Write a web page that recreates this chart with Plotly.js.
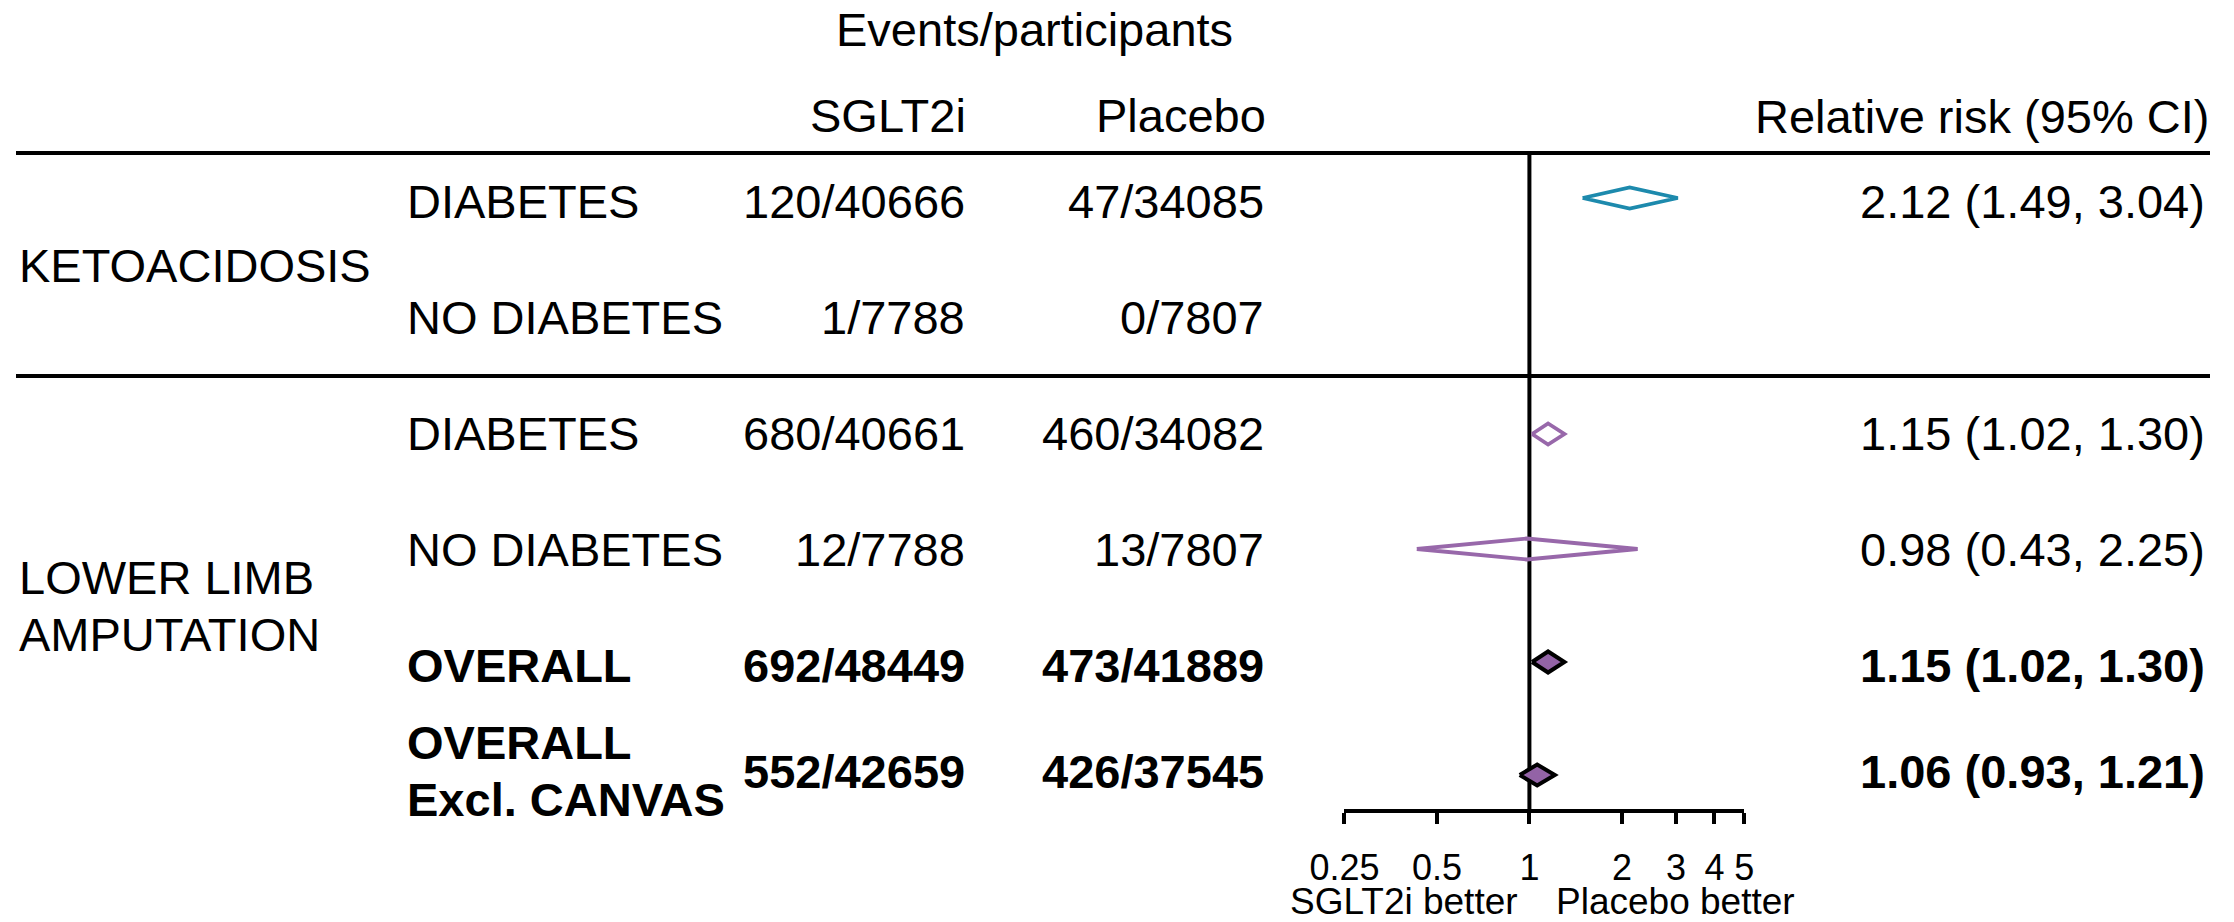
<!DOCTYPE html>
<html>
<head>
<meta charset="utf-8">
<script src="https://cdn.plot.ly/plotly-3.0.1.min.js"></script>
<style>
  html, body { margin: 0; padding: 0; background: #ffffff; }
  #chart { width: 2234px; height: 922px; }
</style>
</head>
<body>
<div id="chart"></div>
<script>
// ---------------- DATA ----------------
const outcomes = ['KETOACIDOSIS', 'LOWER LIMB<br>AMPUTATION'];
const subgroups = ['DIABETES', 'NO DIABETES', 'DIABETES', 'NO DIABETES', 'OVERALL', 'OVERALL<br>Excl. CANVAS'];
const rowOutcome = [0, 0, 1, 1, 1, 1];
const sgltEvents = [120, 1, 680, 12, 692, 552];
const sgltTotal = [40666, 7788, 40661, 7788, 48449, 42659];
const placEvents = [47, 0, 460, 13, 473, 426];
const placTotal = [34085, 7807, 34082, 7807, 41889, 37545];
const relRisk = [2.12, null, 1.15, 0.98, 1.15, 1.06];
const ciLow = [1.49, null, 1.02, 0.43, 1.02, 0.93];
const ciHigh = [3.04, null, 1.30, 2.25, 1.30, 1.21];
const isSummary = [false, false, false, false, true, true];
const tickValues = [0.25, 0.5, 1, 2, 3, 4, 5];
const tickLabels = ['0.25', '0.5', '1', '2', '3', '4', '5'];
const headerTop = 'Events/participants';
const colHeaders = ['SGLT2i', 'Placebo', 'Relative risk (95% CI)'];
const footerLabels = ['SGLT2i better', 'Placebo better'];

// ---------------- LAYOUT CONSTANTS (pixels) ----------------
const W = 2234, H = 922;
const FONT = 'Liberation Sans, Arial, Helvetica, sans-serif';
const rowY = [201.5, 317, 433.5, 549, 665, 771];
const markY = [198, 317, 434, 549, 662, 775];
const outcomeY = [265, 606];
const lineGap = 56.5;
const axisY = 811;
const ruleY = [153, 376];
const colX = { group: 17, sub: 405, sglt: 967, plac: 1266, rr: 2207 };
const axisLeftPx = 1344.3, axisRightPx = 1744.3;
const halfH = 10.5;
const teal = '#1d8aad';
const purple = '#9868aa';
const purpleFill = '#9363a6';

const fx = px => px / W;
const fy = py => 1 - py / H;

const annotations = [];
function addText(text, x, y, anchor, size, opts) {
  annotations.push(Object.assign({
    text: text, xref: 'paper', yref: 'paper', x: fx(x), y: fy(y),
    xanchor: anchor, yanchor: 'middle', showarrow: false,
    font: { family: FONT, size: size, color: '#000000' }
  }, opts || {}));
}
function multiline(text, x, yc, anchor, size, bold) {
  const parts = text.split('<br>');
  const n = parts.length;
  parts.forEach((p, i) => {
    const y = yc + (i - (n - 1) / 2) * lineGap;
    addText(bold ? '<b>' + p + '</b>' : p, x, y, anchor, size);
  });
}

// headers
addText(headerTop, 1034, 30, 'center', 47);
addText(colHeaders[0], 968, 116, 'right', 47);
addText(colHeaders[1], 1268, 116, 'right', 47);
addText(colHeaders[2], 2211, 117, 'right', 47);

// outcome labels
outcomes.forEach((o, i) => multiline(o, colX.group, outcomeY[i], 'left', 47, false));

// rows
const traces = [];
subgroups.forEach((s, i) => {
  const b = isSummary[i];
  const wrap = t => b ? '<b>' + t + '</b>' : t;
  multiline(s, colX.sub, rowY[i], 'left', 47, b);
  addText(wrap(sgltEvents[i] + '/' + sgltTotal[i]), colX.sglt, rowY[i], 'right', 47);
  addText(wrap(placEvents[i] + '/' + placTotal[i]), colX.plac, rowY[i], 'right', 47);
  if (relRisk[i] !== null) {
    addText(wrap(relRisk[i].toFixed(2) + ' (' + ciLow[i].toFixed(2) + ', ' + ciHigh[i].toFixed(2) + ')'),
      colX.rr, rowY[i], 'right', 47);
    const yc = markY[i];
    const col = rowOutcome[i] === 0 ? teal : purple;
    traces.push({
      type: 'scatter', mode: 'lines', hoverinfo: 'skip', showlegend: false,
      x: [ciLow[i], relRisk[i], ciHigh[i], relRisk[i], ciLow[i]],
      y: [yc, yc - halfH, yc, yc + halfH, yc],
      fill: 'toself',
      fillcolor: b ? purpleFill : 'rgba(255,255,255,0)',
      line: { color: b ? '#000000' : col, width: b ? 4 : 3.8 }
    });
  }
});

// reference line at RR = 1
traces.unshift({
  type: 'scatter', mode: 'lines', hoverinfo: 'skip', showlegend: false,
  x: [1, 1], y: [ruleY[0], axisY],
  line: { color: '#000000', width: 4 }
});

// footer
addText(footerLabels[0], 1404, 901, 'center', 37);
addText(footerLabels[1], 1675, 901, 'center', 37);

const shapes = ruleY.map(y => ({
  type: 'line', xref: 'paper', yref: 'y', x0: fx(16), x1: fx(2210), y0: y, y1: y,
  line: { color: '#000000', width: 4 }
}));

const eps = 0.0004;
const layout = {
  width: W, height: H,
  margin: { l: 0, r: 0, t: 0, b: 0, pad: 0 },
  paper_bgcolor: '#ffffff', plot_bgcolor: 'rgba(0,0,0,0)',
  showlegend: false,
  xaxis: {
    type: 'log',
    domain: [fx(axisLeftPx), fx(axisRightPx)],
    range: [Math.log10(tickValues[0]) - eps, Math.log10(tickValues[tickValues.length - 1]) + eps],
    anchor: 'free', position: 1 - axisY / H,
    showline: true, linecolor: '#000000', linewidth: 4,
    ticks: 'outside', ticklen: 11, tickwidth: 4, tickcolor: '#000000',
    tickmode: 'array', tickvals: tickValues, ticktext: tickLabels,
    tickfont: { family: FONT, size: 36, color: '#000000' },
    ticklabelstandoff: 13,
    showgrid: false, zeroline: false, fixedrange: true
  },
  yaxis: {
    domain: [0, 1], range: [H, 0], visible: false,
    showgrid: false, zeroline: false, fixedrange: true
  },
  shapes: shapes,
  annotations: annotations
};

Plotly.newPlot('chart', traces, layout, { staticPlot: true, displayModeBar: false });
</script>
</body>
</html>
